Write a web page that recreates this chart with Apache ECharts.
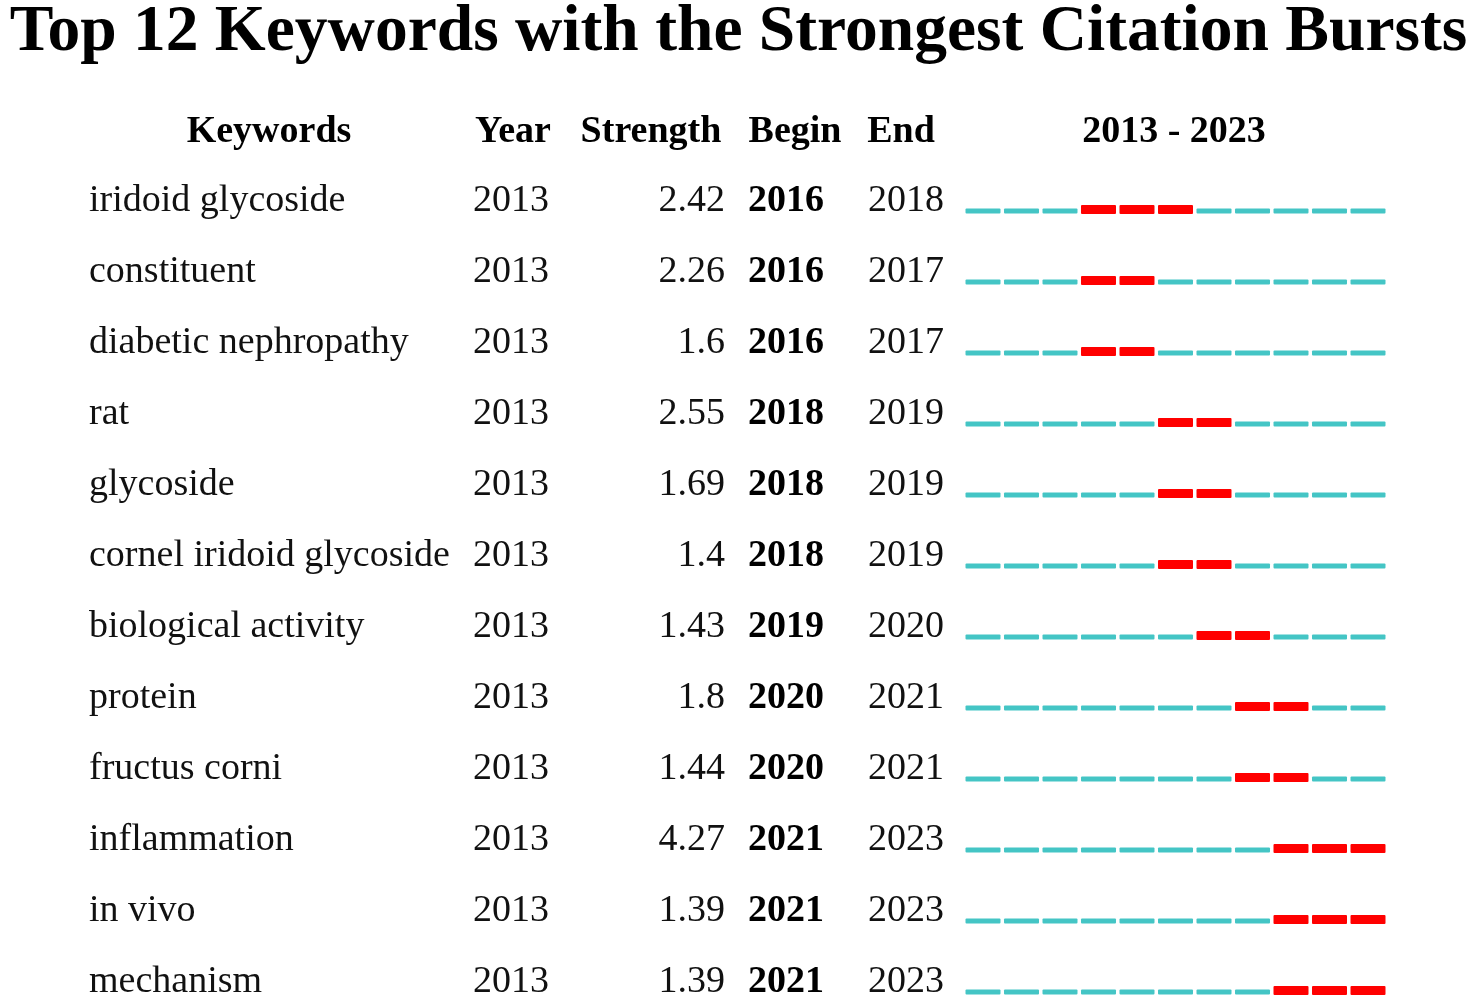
<!DOCTYPE html>
<html>
<head>
<meta charset="utf-8">
<script src="https://cdn.jsdelivr.net/npm/echarts@6/dist/echarts.min.js"></script>
<style>html,body{margin:0;padding:0;background:#fff}#main{width:1477px;height:1002px}</style>
</head>
<body>
<div id="main"></div>
<script>
const titleText = 'Top 12 Keywords with the Strongest Citation Bursts';
const headers = ['Keywords', 'Year', 'Strength', 'Begin', 'End', '2013 - 2023'];
const keywords = ['iridoid glycoside', 'constituent', 'diabetic nephropathy', 'rat', 'glycoside',
  'cornel iridoid glycoside', 'biological activity', 'protein', 'fructus corni', 'inflammation',
  'in vivo', 'mechanism'];
const firstYears = [2013, 2013, 2013, 2013, 2013, 2013, 2013, 2013, 2013, 2013, 2013, 2013];
const strengths = ['2.42', '2.26', '1.6', '2.55', '1.69', '1.4', '1.43', '1.8', '1.44', '4.27', '1.39', '1.39'];
const begins = [2016, 2016, 2016, 2018, 2018, 2018, 2019, 2020, 2020, 2021, 2021, 2021];
const ends = [2018, 2017, 2017, 2019, 2019, 2019, 2020, 2021, 2021, 2023, 2023, 2023];
const spanStart = 2013;
const spanEnd = 2023;

const FONT = '"Liberation Serif", "Times New Roman", serif';
const SIZE = 38;
const chart = echarts.init(document.getElementById('main'), null, { renderer: 'canvas' });

const barData = keywords.map((k, i) => [begins[i], i, ends[i]]);
const textData = keywords.map((k, i) => [spanStart, i]);

function barItem(params, api) {
  const row = api.value(1);
  const b = api.value(0), e = api.value(2);
  const cell = api.size([1, 0])[0];
  const children = [];
  for (let y = spanStart; y <= spanEnd; y++) {
    const p = api.coord([y, row]);
    const burst = y >= b && y <= e;
    children.push({
      type: 'rect',
      shape: { x: p[0] + 0.5, y: burst ? p[1] - 4.5 : p[1] - 1, width: cell - 3.5, height: burst ? 9 : 5, r: 1 },
      style: { fill: burst ? '#ff0000' : '#44c5c5' }
    });
  }
  return { type: 'group', children };
}

function txt(x, y, text, align, bold) {
  return {
    type: 'text', x: x, y: y,
    style: { text: text, align: align, verticalAlign: 'middle', fill: bold ? '#000' : '#111',
      font: (bold ? 'bold ' : '') + SIZE + 'px ' + FONT }
  };
}

function textItem(params, api) {
  const i = api.value(1);
  const p = api.coord([spanStart, i]);
  const y = p[1] - 8;
  return {
    type: 'group',
    children: [
      txt(89, y, keywords[i], 'left', false),
      txt(473, y, String(firstYears[i]), 'left', false),
      txt(725, y, strengths[i], 'right', false),
      txt(748, y, String(begins[i]), 'left', true),
      txt(868, y, String(ends[i]), 'left', false)
    ]
  };
}

const headerX = [269, 513, 651, 795, 901, 1174];
const option = {
  backgroundColor: '#ffffff',
  animation: false,
  title: {
    text: titleText, left: 'center', top: -5,
    textStyle: { fontFamily: FONT, fontSize: 65.5, fontWeight: 'bold', color: '#000' }
  },
  graphic: headers.map((h, i) => ({
    type: 'text', x: headerX[i], y: 132,
    style: { text: h, align: 'center', verticalAlign: 'middle', fill: '#000',
      font: 'bold ' + SIZE + 'px ' + FONT }
  })),
  grid: { left: 965, right: 88.5, top: 209.5, bottom: 11.5 },
  xAxis: { type: 'value', min: spanStart, max: spanEnd + 1, show: false },
  yAxis: { type: 'category', data: keywords, inverse: true, boundaryGap: false, show: false },
  series: [
    { type: 'custom', renderItem: barItem, data: barData, clip: false },
    { type: 'custom', renderItem: textItem, data: textData, clip: false }
  ]
};
chart.setOption(option);
</script>
</body>
</html>
